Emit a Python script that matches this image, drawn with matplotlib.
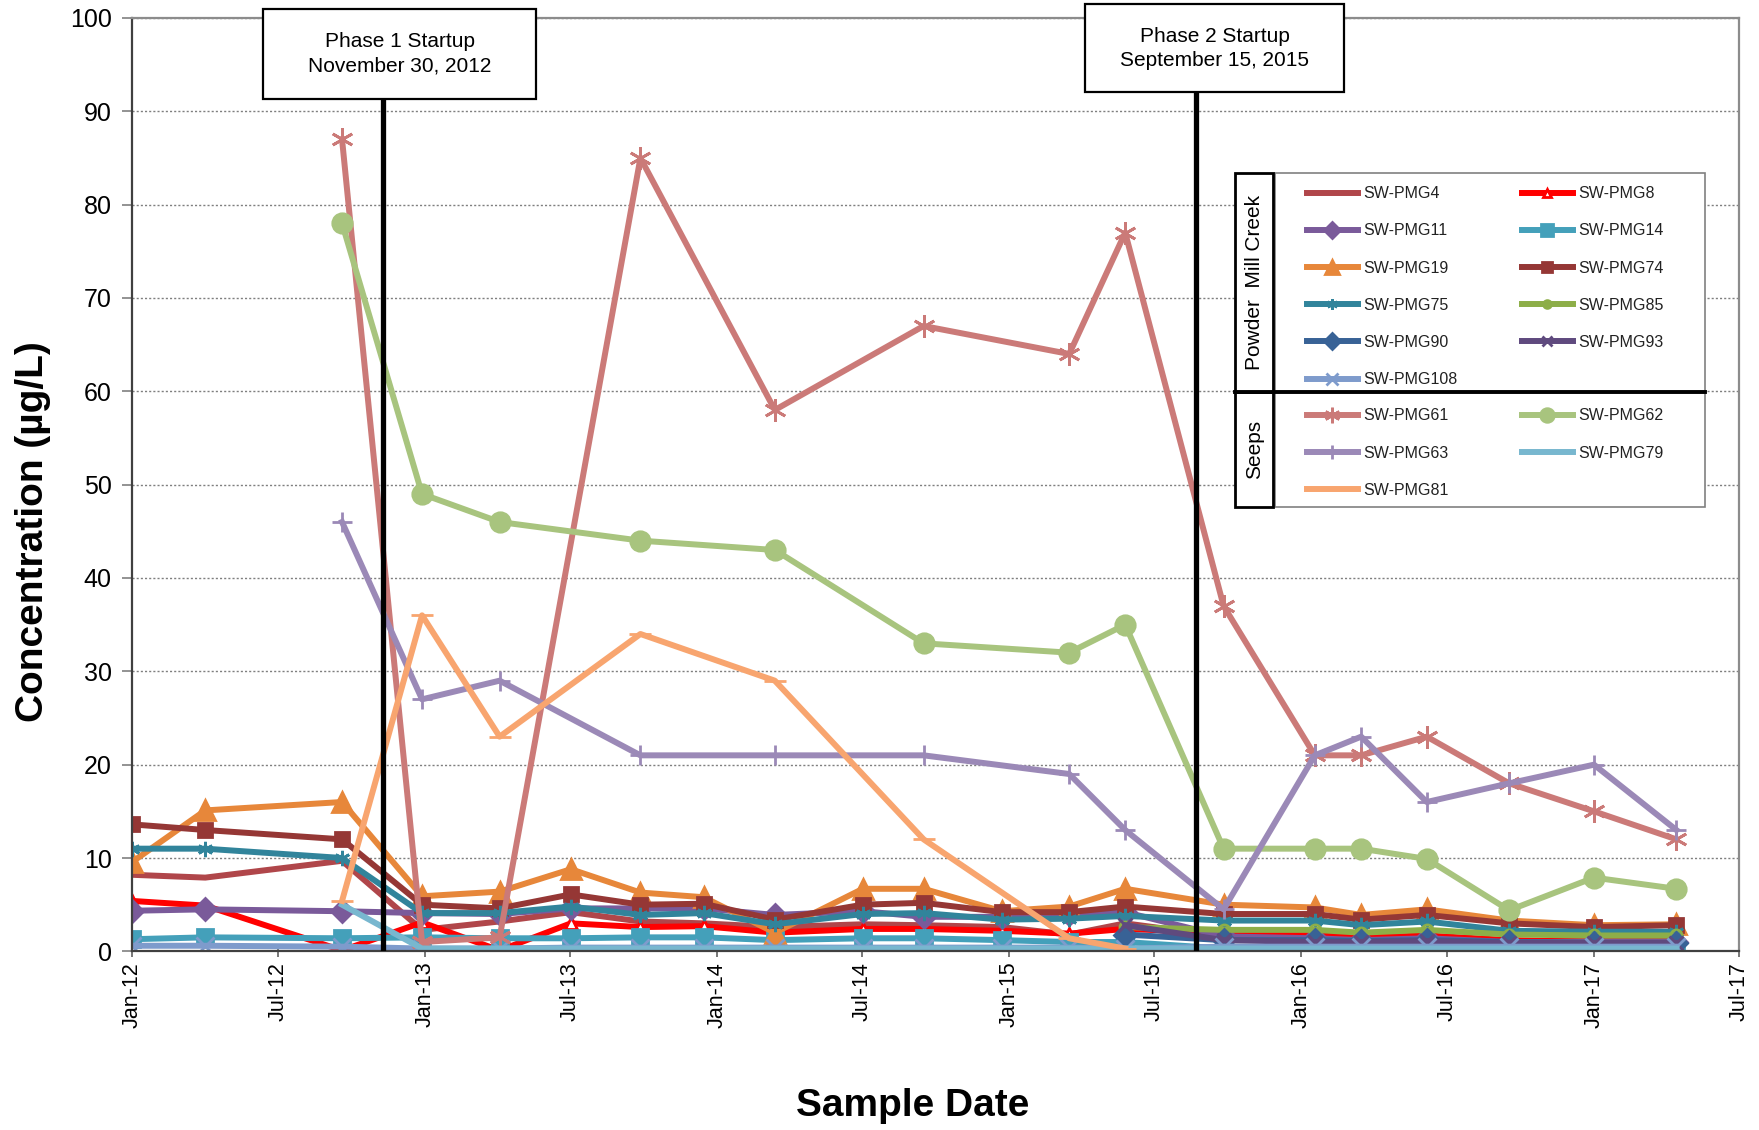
import numpy as np
import matplotlib
matplotlib.use('Agg')
import matplotlib.pyplot as plt
import matplotlib.dates as mdates
import matplotlib.transforms as mtransforms
from matplotlib.patches import Rectangle
from matplotlib.lines import Line2D
import pandas as pd

plt.rcParams['font.family'] = ['Liberation Sans', 'DejaVu Sans']

nan = np.nan

# sample dates, Powder Mill Creek stations
creek_dates = pd.to_datetime([
    '2012-01-01', '2012-04-01', '2012-09-19', '2012-12-28', '2013-04-04',
    '2013-07-02', '2013-09-27', '2013-12-15', '2014-03-14', '2014-07-02',
    '2014-09-16', '2014-12-23', '2015-03-17', '2015-05-26', '2015-09-26',
    '2016-01-18', '2016-03-16', '2016-06-06', '2016-09-17', '2017-01-01',
    '2017-04-14'])

# sample dates, seeps
seep_dates = pd.to_datetime([
    '2012-09-19', '2012-12-28', '2013-04-04', '2013-09-27', '2014-03-14',
    '2014-09-16', '2015-03-17', '2015-05-26', '2015-09-26', '2016-01-18',
    '2016-03-16', '2016-06-06', '2016-09-17', '2017-01-01', '2017-04-14'])

# creek concentrations (ug/L)
pmg4 = [8.2, 7.9, 9.7, 2.3, 3.2, 4.2, 3.2, 3.0, 2.6, 2.9, 2.8, 2.6, 1.8, 3.0, 1.6, 1.6, 1.4, 1.5, 1.1, 1.1, 1.2]
pmg8 = [5.4, 4.9, 0.1, 3.1, 0.1, 3.0, 2.6, 2.7, 2.0, 2.4, 2.4, 2.2, 1.9, 2.4, 2.0, 1.8, 1.5, 1.7, 1.2, 1.0, 1.0]
pmg11 = [4.35, 4.5, 4.3, 4.1, 4.0, 4.6, 4.6, 4.6, 3.9, 4.3, 3.7, 3.7, 4.0, 4.2, 1.6, 1.4, 1.2, 1.4, 1.0, 1.0, 1.0]
pmg14 = [1.3, 1.5, 1.4, 1.5, 1.4, 1.4, 1.5, 1.5, 1.2, 1.4, 1.4, 1.2, 1.0, 1.0, 0.3, 0.3, 0.3, 0.3, 0.2, 0.2, 0.2]
pmg19 = [9.6, 15.1, 16.0, 5.9, 6.4, 8.8, 6.3, 5.8, 2.0, 6.7, 6.7, 4.3, 4.8, 6.7, 5.0, 4.7, 3.9, 4.5, 3.3, 2.8, 2.9]
pmg74 = [13.6, 13.0, 12.0, 5.0, 4.6, 6.1, 5.0, 5.1, 3.4, 5.0, 5.2, 4.2, 4.2, 4.8, 4.0, 4.0, 3.4, 3.9, 3.0, 2.6, 2.8]
pmg75 = [11.0, 11.0, 10.0, 4.1, 4.1, 4.8, 3.9, 4.1, 2.9, 4.0, 4.1, 3.4, 3.5, 3.8, 3.3, 3.3, 2.8, 3.2, 2.2, 2.1, 2.1]
pmg85 = [nan] * 13 + [2.6, 2.3, 2.3, 2.0, 2.3, 1.8, 1.7, 1.7]
pmg90 = [nan] * 13 + [1.8, 1.2, 1.2, 1.1, 1.2, 1.0, 0.9, 0.9]
pmg93 = [nan] * 13 + [2.8, 1.2, 1.0, 1.0, 1.1, 0.9, 0.9, 0.9]
pmg108 = [0.6, 0.6, 0.5, 0.3, 0.3, 0.4, 0.4, 0.4, 0.4, 0.4, 0.4, 0.4, 0.4, 0.3, 0.5, 0.5, 0.5, 0.5, 0.5, 0.5, 0.5]

# seep concentrations (ug/L)
pmg61 = [87, 1.0, 1.5, 85, 58, 67, 64, 77, 37, 21, 21, 23, 18, 15, 12]
pmg62 = [78, 49, 46, 44, 43, 33, 32, 35, 11, 11, 11, 9.9, 4.4, 7.9, 6.7]
pmg63 = [46, 27, 29, 21, 21, 21, 19, 13, 4.5, 21, 23, 16, 18, 20, 13]
pmg79 = [5.0, 0.3, 0.3, 0.3, 0.3, 0.3, 0.3, 0.3, 0.3, 0.3, 0.3, 0.3, 0.3, 0.3, 0.3]
pmg81 = [5.4, 36, 23, 34, 29, 12, 1.4, 0.3, nan, nan, nan, nan, nan, nan, nan]

phase_labels = ['Phase 1 Startup\nNovember 30, 2012', 'Phase 2 Startup\nSeptember 15, 2015']
phase_dates = pd.to_datetime(['2012-11-30', '2015-09-15'])
phase_line_dates = pd.to_datetime(['2012-11-09', '2015-08-22'])

# name, values, color, marker, markersize, marker face
creek = [
    ('SW-PMG4', pmg4, '#B0464A', 'None', 0, None),
    ('SW-PMG8', pmg8, '#FF0000', '^', 9, 'white'),
    ('SW-PMG11', pmg11, '#7A5A9A', 'D', 11, None),
    ('SW-PMG14', pmg14, '#44A0BA', 's', 12, None),
    ('SW-PMG19', pmg19, '#E7873A', '^', 14, None),
    ('SW-PMG74', pmg74, '#953735', 's', 10, None),
    ('SW-PMG75', pmg75, '#31849B', (6, 2, 0), 11, None),
    ('SW-PMG85', pmg85, '#8DAE48', 'o', 8, 'none'),
    ('SW-PMG90', pmg90, '#386296', 'D', 11, None),
    ('SW-PMG93', pmg93, '#5F4A7E', 'x', 10, None),
    ('SW-PMG108', pmg108, '#7E9BCC', 'x', 13, None),
]
seeps = [
    ('SW-PMG61', pmg61, '#CB7A78', (6, 2, 0), 16, None),
    ('SW-PMG62', pmg62, '#A8C47E', 'o', 14, None),
    ('SW-PMG63', pmg63, '#9B89B7', '+', 14, None),
    ('SW-PMG79', pmg79, '#78B7CF', 'None', 0, None),
    ('SW-PMG81', pmg81, '#F8A56F', '_', 16, None),
]

fig = plt.figure(figsize=(17.59, 11.30), dpi=100)
ax = fig.add_axes([0.0753, 0.1581, 0.9132, 0.8260])

handles = {}
for dates, group in [(creek_dates, creek), (seep_dates, seeps)]:
    for name, vals, col, mk, ms, mf in group:
        ln, = ax.plot(dates, vals, color=col, lw=4.3, marker=mk, markersize=ms,
                      markerfacecolor=mf if mf else col, markeredgecolor=col,
                      markeredgewidth=2.0, label=name)
        handles[name] = ln

ax.set_ylim(0, 100)
ax.set_yticks(range(0, 101, 10))
ax.set_xlim(pd.Timestamp('2012-01-01'), pd.Timestamp('2017-07-01'))
ax.set_xticks(pd.date_range('2012-01-01', '2017-07-01', freq='6MS'))
ax.xaxis.set_major_formatter(mdates.DateFormatter('%b-%y'))
ax.tick_params(axis='x', labelsize=15.5, rotation=90, direction='inout', length=9, width=1.2, color='#606060', pad=3)
ax.tick_params(axis='y', labelsize=18, direction='out', length=7, width=1.2, color='#808080', pad=8)
ax.yaxis.grid(True, linestyle=(0, (1.5, 1.5)), color='#7f7f7f', lw=1)
ax.set_axisbelow(True)
for s in ['left', 'bottom']:
    ax.spines[s].set_color('#404040')
    ax.spines[s].set_linewidth(1.6)
for s in ['top', 'right']:
    ax.spines[s].set_color('#8c8c8c')
    ax.spines[s].set_linewidth(1.6)

ax.set_ylabel('Concentration (µg/L)', fontsize=28, fontweight='bold')
ax.yaxis.set_label_coords(-0.051, 0.45)
ax.set_xlabel('Sample Date', fontsize=28, fontweight='bold')
ax.xaxis.set_label_coords(0.486, -0.1465)

# phase startup markers
trans = mtransforms.blended_transform_factory(ax.transData, ax.transAxes)
box_w = [341, 324]
box_y = [(0.9135, 1.0096), (0.9207, 1.0145)]
for i in range(2):
    ax.vlines(phase_line_dates[i], 0, 96, colors='black', lw=3.8, zorder=8)
    xc = mdates.date2num(phase_dates[i])
    y0, y1 = box_y[i]
    ax.add_patch(Rectangle((xc - box_w[i] / 2, y0), box_w[i], y1 - y0, transform=trans,
                           facecolor='white', edgecolor='black', lw=1.6, clip_on=False, zorder=9))
    ax.text(xc, (y0 + y1) / 2, phase_labels[i], transform=trans, ha='center', va='center',
            fontsize=15, linespacing=1.32, zorder=10)

# legend frame
fig.add_artist(Rectangle((0.7248, 0.5516), 0.2445, 0.2950, transform=fig.transFigure,
                         facecolor='white', edgecolor='#808080', lw=1.2, zorder=1))
fig.add_artist(Rectangle((0.7021, 0.6534), 0.0218, 0.1932, transform=fig.transFigure,
                         facecolor='white', edgecolor='black', lw=2, zorder=2))
fig.add_artist(Rectangle((0.7021, 0.5516), 0.0218, 0.1018, transform=fig.transFigure,
                         facecolor='white', edgecolor='black', lw=2, zorder=2))
fig.add_artist(Line2D([0.7021, 0.9693], [0.6534, 0.6534], transform=fig.transFigure,
                      color='black', lw=2.8, zorder=3))
fig.text(0.7130, 0.75, 'Powder  Mill Creek', rotation=90, ha='center', va='center', fontsize=15, zorder=4)
fig.text(0.7130, 0.6025, 'Seeps', rotation=90, ha='center', va='center', fontsize=15, zorder=4)

creek_order = ['SW-PMG4', 'SW-PMG11', 'SW-PMG19', 'SW-PMG75', 'SW-PMG90', 'SW-PMG108',
               'SW-PMG8', 'SW-PMG14', 'SW-PMG74', 'SW-PMG85', 'SW-PMG93']
seep_order = ['SW-PMG61', 'SW-PMG63', 'SW-PMG81', 'SW-PMG62', 'SW-PMG79']

leg_kw = dict(loc='upper left', ncol=2, frameon=False, fontsize=11.5, borderpad=0,
              borderaxespad=0, handlelength=3.2, handletextpad=0.35, labelspacing=1.39,
              markerscale=0.7)
lg1 = fig.legend([handles[n] for n in creek_order], creek_order,
                 bbox_to_anchor=(0.743, 0.8352), columnspacing=4.0, **leg_kw)
lg2 = fig.legend([handles[n] for n in seep_order], seep_order,
                 bbox_to_anchor=(0.743, 0.6386), columnspacing=4.56, **leg_kw)
for lg in (lg1, lg2):
    lg.set_zorder(6)
    for t in lg.get_texts():
        t.set_color('#222222')

plt.savefig('out.png', dpi=100)
